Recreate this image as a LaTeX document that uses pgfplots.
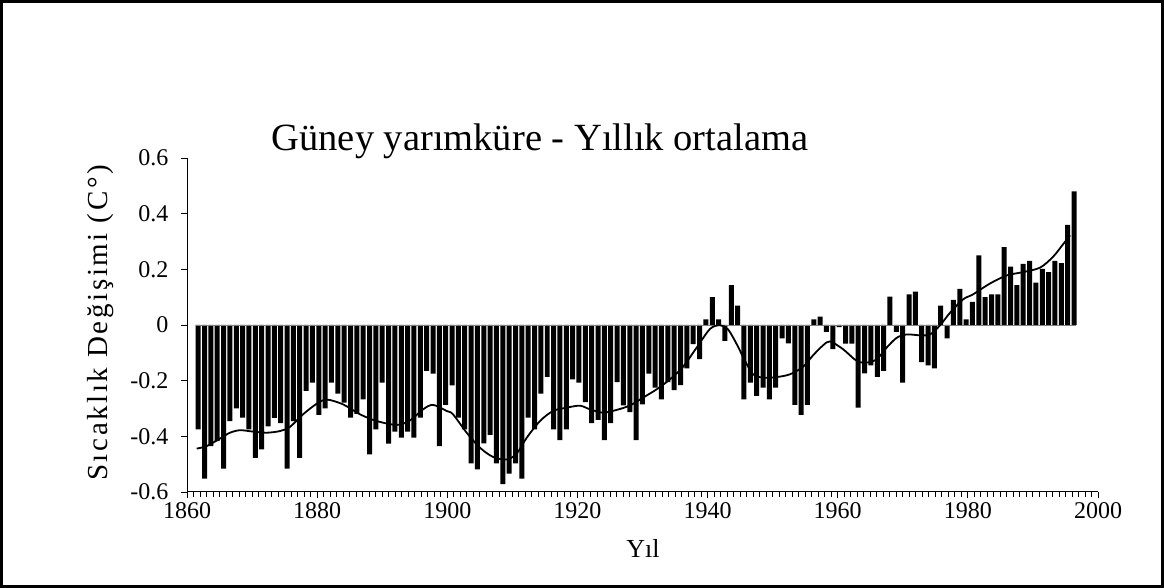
\documentclass[border=0pt]{standalone}
\usepackage{fontspec}
\setmainfont{Liberation Serif}
\usepackage{pgfplots}
\usepackage{pgfplotstable}
\pgfplotsset{compat=1.18}

\pgfplotstableread{
k v
1 -0.375
2 -0.552
3 -0.435
4 -0.417
5 -0.516
6 -0.345
7 -0.300
8 -0.333
9 -0.375
10 -0.477
11 -0.447
12 -0.364
13 -0.334
14 -0.353
15 -0.516
16 -0.345
17 -0.477
18 -0.237
19 -0.207
20 -0.323
21 -0.300
22 -0.207
23 -0.247
24 -0.279
25 -0.333
26 -0.319
27 -0.267
28 -0.465
29 -0.375
30 -0.207
31 -0.426
32 -0.383
33 -0.405
34 -0.383
35 -0.405
36 -0.333
37 -0.165
38 -0.175
39 -0.435
40 -0.287
41 -0.217
42 -0.333
43 -0.375
44 -0.497
45 -0.519
46 -0.425
47 -0.395
48 -0.497
49 -0.572
50 -0.534
51 -0.497
52 -0.552
53 -0.333
54 -0.375
55 -0.247
56 -0.186
57 -0.375
58 -0.414
59 -0.375
60 -0.195
61 -0.207
62 -0.277
63 -0.353
64 -0.341
65 -0.414
66 -0.353
67 -0.205
68 -0.289
69 -0.313
70 -0.414
71 -0.285
72 -0.175
73 -0.225
74 -0.267
75 -0.205
76 -0.234
77 -0.216
78 -0.156
79 -0.069
80 -0.123
81 0.020
82 0.100
83 0.020
84 -0.057
85 0.143
86 0.070
87 -0.267
88 -0.207
89 -0.255
90 -0.225
91 -0.267
92 -0.225
93 -0.048
94 -0.066
95 -0.287
96 -0.323
97 -0.287
98 0.020
99 0.030
100 -0.025
101 -0.087
102 -0.008
103 -0.067
104 -0.067
105 -0.297
106 -0.174
107 -0.145
108 -0.186
109 -0.165
110 0.102
111 -0.025
112 -0.207
113 0.110
114 0.120
115 -0.133
116 -0.145
117 -0.156
118 0.070
119 -0.048
120 0.090
121 0.130
122 0.020
123 0.083
124 0.250
125 0.100
126 0.110
127 0.110
128 0.280
129 0.210
130 0.143
131 0.220
132 0.230
133 0.152
134 0.202
135 0.190
136 0.230
137 0.222
138 0.360
139 0.480
}\bars

\begin{document}
\begin{tikzpicture}
\useasboundingbox (0,0) rectangle (1164pt,588pt);
\draw[line width=3pt] (1.5pt,1.5pt) rectangle (1162.5pt,586.5pt);
\begin{axis}[
  at={(187pt,96pt)}, anchor=south west,
  scale only axis, width=911pt, height=334pt,
  xmin=1860, xmax=2000, ymin=-0.6, ymax=0.6,
  axis x line*=bottom, axis y line*=left,
  axis line style={line width=1pt},
  xtick={1860,1880,1900,1920,1940,1960,1980,2000},
  xticklabels={1860,1880,1900,1920,1940,1960,1980,2000},
  minor x tick num=19,
  ytick={-0.6,-0.4,-0.2,0,0.2,0.4,0.6},
  yticklabels={-0.6,-0.4,-0.2,0,0.2,0.4,0.6},
  tick align=outside,
  major tick length=6pt, minor tick length=5pt,
  tick style={line width=0.9pt, black},
  ticklabel style={font=\fontsize{24pt}{26pt}\selectfont},
  xticklabel style={yshift=-1pt},
  yticklabel style={xshift=-9pt},
  clip=false,
]
\addplot[ybar, bar width=0.768, fill=black, draw=none]
  table[x expr=1861.72+0.9753*(\thisrow{k}-1), y=v] {\bars};
\addplot[gray, line width=0.6pt] coordinates {(1861.34,0) (1996.69,0)};
\addplot[black, line width=1.8pt, smooth] coordinates {
(1861.49,-0.444) (1863.03,-0.435) (1865.07,-0.408) (1866.61,-0.387)
(1868.15,-0.378) (1870.14,-0.383) (1872.25,-0.387) (1874.29,-0.381)
(1875.83,-0.366) (1877.83,-0.321) (1879.93,-0.283) (1881.47,-0.268)
(1883.97,-0.285) (1886.59,-0.321) (1889.15,-0.345) (1892.23,-0.359)
(1894.27,-0.343) (1896.27,-0.303) (1897.81,-0.287) (1899.91,-0.309)
(1900.88,-0.321) (1902.98,-0.387) (1905.03,-0.441) (1907.03,-0.474)
(1909.13,-0.483) (1910.67,-0.462) (1912.21,-0.405) (1914.25,-0.345)
(1916.25,-0.309) (1918.35,-0.297) (1920.40,-0.290) (1921.93,-0.303)
(1923.93,-0.315) (1926.04,-0.305) (1928.08,-0.289) (1930.08,-0.261)
(1932.18,-0.231) (1934.23,-0.195) (1936.23,-0.150) (1938.33,-0.081)
(1940.38,-0.014) (1941.92,-0.001) (1943.15,-0.016) (1944.48,-0.069)
(1945.76,-0.129) (1946.99,-0.177) (1948.52,-0.189) (1950.63,-0.187)
(1952.68,-0.177) (1954.68,-0.150) (1956.21,-0.109) (1957.75,-0.073)
(1958.83,-0.059) (1960.82,-0.087) (1962.92,-0.129) (1964.46,-0.135)
(1966.00,-0.123) (1967.53,-0.081) (1969.07,-0.046) (1970.61,-0.034)
(1972.65,-0.037) (1974.19,-0.034) (1975.73,-0.001) (1977.26,0.044)
(1979.26,0.092) (1980.79,0.110) (1983.40,0.149) (1985.97,0.178)
(1988.48,0.190) (1991.09,0.206) (1993.09,0.245) (1994.63,0.290)
(1995.71,0.322)
};
\end{axis}
\node[anchor=base, font=\fontsize{38.5pt}{41pt}\selectfont] at (540pt,437pt) {Güney yarımküre - Yıllık ortalama};
\node[rotate=90, font=\fontsize{29pt}{32pt}\selectfont\addfontfeatures{LetterSpace=9}] at (101pt,265pt) {Sıcaklık Değişimi (C°)};
\node[anchor=base, font=\fontsize{26pt}{28pt}\selectfont] at (643pt,30pt) {Yıl};
\end{tikzpicture}
\end{document}
